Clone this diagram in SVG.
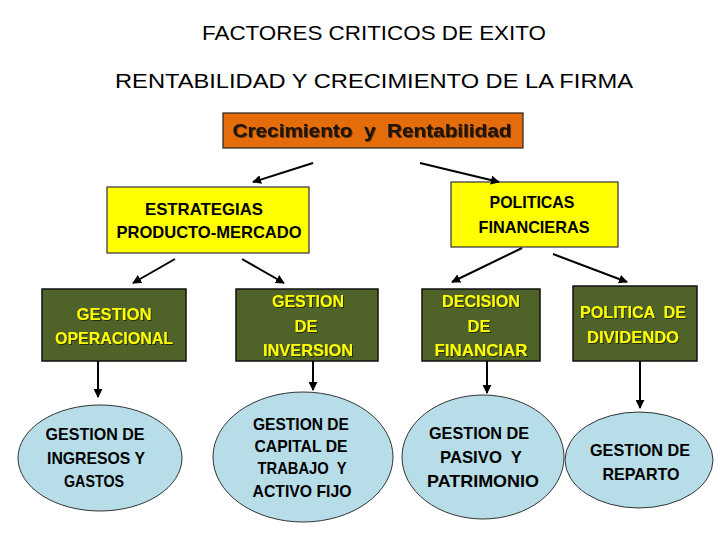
<svg xmlns="http://www.w3.org/2000/svg" width="720" height="540" viewBox="0 0 720 540">
<defs>
<marker id="ah" viewBox="0 0 10 10" refX="9" refY="5" markerWidth="9" markerHeight="9" markerUnits="userSpaceOnUse" orient="auto">
<path d="M0,0 L10,5 L0,10 z" fill="#000"/>
</marker>
<filter id="sh" x="-10%" y="-20%" width="120%" height="150%">
<feDropShadow dx="1" dy="1" stdDeviation="0.6" flood-color="#000" flood-opacity="0.55"/>
</filter>
</defs>
<style>
text{font-family:"Liberation Sans",Arial,sans-serif;text-anchor:middle;}
.title{font-size:21px;fill:#000;}
.orange{fill:#E46C0A;stroke:#222;stroke-width:1.2;}
.yellow{fill:#FFFF00;stroke:#333;stroke-width:1.2;}
.green{fill:#4F6228;stroke:#111;stroke-width:1.5;}
.oval{fill:#B7DDE8;stroke:#333;stroke-width:1;}
.otxt{font-size:19px;font-weight:bold;fill:#1a1208;filter:url(#sh);}
.ytxt{font-size:17px;font-weight:bold;fill:#000;}
.gtxt{font-size:17px;font-weight:bold;fill:#FFFF00;filter:url(#sh);}
.etxt{font-size:17px;font-weight:bold;fill:#000;}
.conn line{stroke:#000;stroke-width:2;marker-end:url(#ah);}
</style>
<rect width="720" height="540" fill="#fff"/>
<g id="titles">
<text class="title" x="374" y="40" textLength="344" lengthAdjust="spacingAndGlyphs">FACTORES CRITICOS DE EXITO</text>
<text class="title" x="374" y="88" textLength="518" lengthAdjust="spacingAndGlyphs">RENTABILIDAD Y CRECIMIENTO DE LA FIRMA</text>
</g>
<g id="crecimiento">
<rect class="orange" x="223" y="113" width="300" height="35"/>
<text class="otxt" x="372" y="137" textLength="279" lengthAdjust="spacingAndGlyphs" xml:space="preserve">Crecimiento  y  Rentabilidad</text>
</g>
<g id="estrategias">
<rect class="yellow" x="107" y="187" width="202" height="66"/>
<text class="ytxt" x="204" y="215" textLength="118" lengthAdjust="spacingAndGlyphs">ESTRATEGIAS</text>
<text class="ytxt" x="209" y="238" textLength="185" lengthAdjust="spacingAndGlyphs">PRODUCTO-MERCADO</text>
</g>
<g id="politicas">
<rect class="yellow" x="451" y="182" width="167" height="65"/>
<text class="ytxt" x="532" y="208" textLength="85" lengthAdjust="spacingAndGlyphs">POLITICAS</text>
<text class="ytxt" x="534" y="233" textLength="111" lengthAdjust="spacingAndGlyphs">FINANCIERAS</text>
</g>
<g id="gestion-operacional">
<rect class="green" x="42" y="289" width="144" height="72"/>
<text class="gtxt" x="114" y="320" textLength="75" lengthAdjust="spacingAndGlyphs">GESTION</text>
<text class="gtxt" x="114" y="344" textLength="118" lengthAdjust="spacingAndGlyphs">OPERACIONAL</text>
</g>
<g id="gestion-inversion">
<rect class="green" x="236" y="289" width="142" height="72"/>
<text class="gtxt" x="308" y="307" textLength="72" lengthAdjust="spacingAndGlyphs">GESTION</text>
<text class="gtxt" x="306" y="332" textLength="23" lengthAdjust="spacingAndGlyphs">DE</text>
<text class="gtxt" x="308" y="356" textLength="90" lengthAdjust="spacingAndGlyphs">INVERSION</text>
</g>
<g id="decision-financiar">
<rect class="green" x="422" y="289" width="118" height="72"/>
<text class="gtxt" x="481" y="307" textLength="78" lengthAdjust="spacingAndGlyphs">DECISION</text>
<text class="gtxt" x="479" y="332" textLength="23" lengthAdjust="spacingAndGlyphs">DE</text>
<text class="gtxt" x="481" y="356" textLength="93" lengthAdjust="spacingAndGlyphs">FINANCIAR</text>
</g>
<g id="politica-dividendo">
<rect class="green" x="573" y="286" width="124" height="75"/>
<text class="gtxt" x="633" y="318" textLength="106" lengthAdjust="spacingAndGlyphs" xml:space="preserve">POLITICA  DE</text>
<text class="gtxt" x="633" y="343" textLength="92" lengthAdjust="spacingAndGlyphs">DIVIDENDO</text>
</g>
<g id="gestion-ingresos">
<ellipse class="oval" cx="100" cy="458" rx="82" ry="53"/>
<text class="etxt" x="95" y="440" textLength="99" lengthAdjust="spacingAndGlyphs">GESTION DE</text>
<text class="etxt" x="96" y="464" textLength="98" lengthAdjust="spacingAndGlyphs">INGRESOS Y</text>
<text class="etxt" x="94" y="487" textLength="60" lengthAdjust="spacingAndGlyphs">GASTOS</text>
</g>
<g id="gestion-capital">
<ellipse class="oval" cx="303" cy="457" rx="90" ry="65"/>
<text class="etxt" x="301" y="430" textLength="96" lengthAdjust="spacingAndGlyphs">GESTION DE</text>
<text class="etxt" x="301" y="452" textLength="93" lengthAdjust="spacingAndGlyphs">CAPITAL DE</text>
<text class="etxt" x="302" y="474" textLength="89" lengthAdjust="spacingAndGlyphs" xml:space="preserve">TRABAJO  Y</text>
<text class="etxt" x="302" y="497" textLength="99" lengthAdjust="spacingAndGlyphs">ACTIVO FIJO</text>
</g>
<g id="gestion-pasivo">
<ellipse class="oval" cx="483" cy="457" rx="81" ry="62"/>
<text class="etxt" x="479" y="439" textLength="100" lengthAdjust="spacingAndGlyphs">GESTION DE</text>
<text class="etxt" x="481" y="463" textLength="82" lengthAdjust="spacingAndGlyphs" xml:space="preserve">PASIVO  Y</text>
<text class="etxt" x="483" y="487" textLength="112" lengthAdjust="spacingAndGlyphs">PATRIMONIO</text>
</g>
<g id="gestion-reparto">
<ellipse class="oval" cx="639" cy="460" rx="74" ry="48"/>
<text class="etxt" x="640" y="456" textLength="100" lengthAdjust="spacingAndGlyphs">GESTION DE</text>
<text class="etxt" x="641" y="480" textLength="77" lengthAdjust="spacingAndGlyphs">REPARTO</text>
</g>
<g id="connectors" class="conn">
<line x1="313" y1="163" x2="253" y2="182"/>
<line x1="420" y1="163" x2="499" y2="182"/>
<line x1="175" y1="259" x2="133" y2="283"/>
<line x1="242" y1="259" x2="284" y2="283"/>
<line x1="522" y1="248" x2="452" y2="282"/>
<line x1="553" y1="254" x2="627" y2="282"/>
<line x1="98" y1="361" x2="98" y2="397"/>
<line x1="313" y1="361" x2="313" y2="390"/>
<line x1="487" y1="361" x2="487" y2="393"/>
<line x1="640" y1="361" x2="640" y2="408"/>
</g>
</svg>
